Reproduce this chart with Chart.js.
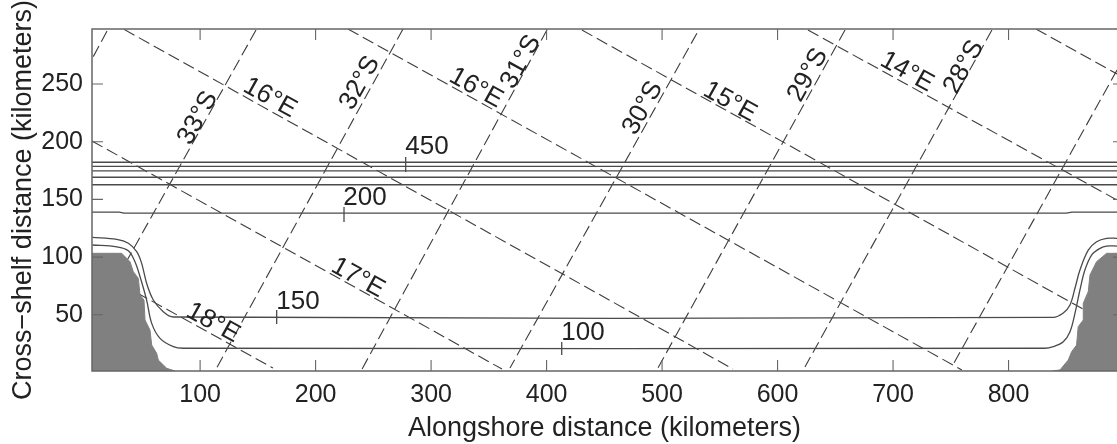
<!DOCTYPE html>
<html>
<head>
<meta charset="utf-8">
<title>Shelf grid</title>
<script src="https://cdn.jsdelivr.net/npm/chart.js@4"></script>
<style>
  html, body { margin: 0; padding: 0; background: #fff; }
  canvas { display: block; filter: blur(0.45px); }
</style>
</head>
<body>
<canvas id="shelfChart" width="1117" height="444"></canvas>
<script>
/* =========================
   DATA (kilometers)
========================= */

const xTicks = [100, 200, 300, 400, 500, 600, 700, 800];
const yTicks = [50, 100, 150, 200, 250];

const xMin = 6.4;
const xMax = 893.9;
const yMin = 1.3;
const yMax = 297.7;

// offshore isobaths, flat across the whole domain
const flatIsobaths = [182.2, 178.7, 174.8, 169.2, 162.7];

const isobath138X = [6.4, 30, 34, 850, 855, 893.9];
const isobath138Y = [139, 139, 138.1, 138.1, 139, 139];

const isobathUpperX = [6.7, 27.8, 37.9, 45.1, 49.4, 53.7, 59.5, 68.1, 76.8, 838.7, 847.4, 853.2, 857.5, 861.8, 869, 876.2, 884.9, 893.9];
const isobathUpperY = [117.1, 115.4, 112, 104.7, 94.6, 77.3, 62.8, 52.7, 48.1, 47.8, 51.6, 58.5, 73, 88.8, 106, 113.3, 116.3, 116.3];

const isobathLowerX = [6.7, 27.8, 37.9, 43.6, 48, 53.7, 58.1, 65.3, 76.8, 85.5, 831.5, 838.7, 847.4, 853.2, 857.5, 861.8, 866.1, 871.9, 879.2, 884.9, 893.9];
const isobathLowerY = [110.5, 108.9, 105.5, 96, 83, 62.8, 42.6, 29.6, 22.4, 21, 21, 22.4, 26.7, 35.4, 51.3, 71.5, 88.8, 101.8, 107.6, 109.6, 109.6];

const landLeftX = [6.4, 32.1, 39.3, 42.2, 46.5, 48, 51.4, 52.3, 56.6, 58.1, 62.4, 63.8, 71.1, 78.3];
const landLeftY = [103.3, 103.3, 96, 87.3, 81.6, 67.2, 62.8, 45.5, 36.8, 23.8, 16.6, 10.8, 3.6, 1.3];

const landRightX = [838, 844.5, 851.7, 854.6, 858.9, 860.3, 864.7, 864.7, 869, 870.5, 876.2, 884.9, 893.9];
const landRightY = [1.3, 2.2, 10.8, 18, 23.8, 39.7, 45.5, 60, 70, 84.5, 96, 103.3, 103.3];

// meridians: [x0, y0, x1, y1]
const meridian18 = [6.4, 90.6, 163.1, 3.9];
const meridian17 = [6.4, 200.6, 361.4, 3];
const meridian16a = [34.1, 297.4, 561.4, 3];
const meridian16b = [228, 297.7, 759.6, 2.2];
const meridian15 = [430.6, 296.8, 893.9, 38.6];
const meridian14 = [626.3, 296.8, 893.9, 149.5];
const meridian13 = [823.7, 297.7, 893.9, 258.7];

// parallels: [x0, y0, x1, y1]
const parallel34 = [19.4, 295.9, 6.4, 271.7];
const parallel33 = [148.4, 296.8, 6.4, 42.9];
const parallel32 = [275.7, 297.7, 112.9, 1.3];
const parallel31 = [400.3, 296.8, 239.3, 1.3];
const parallel30 = [530.2, 294.1, 368.3, 3.9];
const parallel29 = [658.4, 296.8, 496.4, 3.9];
const parallel28 = [785.6, 296.8, 623.7, 4.8];
const parallel27 = [893.9, 262.1, 751.8, 6.5];
const parallel26 = [893.9, 34.2, 879.1, 4.8];

const parallelNames = ["33°S", "32°S", "31°S", "30°S", "29°S", "28°S"];
const parallelNameX = [98.2, 238.4, 377.8, 483.5, 626.3, 761.4];
const parallelNameY = [220.5, 250.9, 269.1, 229.2, 257.8, 264.7];

const meridianNames = ["16°E", "16°E", "15°E", "14°E", "17°E", "18°E"];
const meridianNameX = [160.5, 338.9, 558.8, 712, 236.7, 111.2];
const meridianNameY = [237.9, 246.5, 234.4, 260.4, 81.9, 42.9];

const depthNames = ["450", "200", "150", "100"];
const depthNameX = [296.5, 242.8, 184.8, 431.5];
const depthNameY = [195.4, 151.2, 61.1, 34.2];

const depthTickX = [278, 224.6, 166.3, 413.1];
const depthTickTop = [186.7, 143.4, 54.2, 26.4];
const depthTickBottom = [173.7, 130.4, 42, 15.2];

/* =========================
   DATASETS
========================= */

const LINE_COLOR = "#4a4a4a";
const TEXT_COLOR = "#222222";
const FONT_FAMILY = "'Liberation Sans', Arial, sans-serif";

function zipPoints(xs, ys) {
  return xs.map((x, i) => ({ x: x, y: ys[i] }));
}

function landSet(xs, ys) {
  return {
    data: zipPoints(xs, ys),
    borderColor: "#808080",
    backgroundColor: "#808080",
    borderWidth: 1,
    fill: "start",
    tension: 0
  };
}

function solidSet(points, smooth) {
  return {
    data: points,
    borderColor: LINE_COLOR,
    borderWidth: 1.3,
    fill: false,
    tension: smooth ? 0.35 : 0
  };
}

function dashedSet(seg) {
  return {
    data: [{ x: seg[0], y: seg[1] }, { x: seg[2], y: seg[3] }],
    borderColor: "#3c3c3c",
    borderWidth: 1.1,
    borderDash: [12, 5],
    fill: false,
    tension: 0
  };
}

const datasets = [
  landSet(landLeftX, landLeftY),
  landSet(landRightX, landRightY)
];

flatIsobaths.forEach(y => {
  datasets.push(solidSet([{ x: xMin, y: y }, { x: xMax, y: y }], false));
});

datasets.push(solidSet(zipPoints(isobath138X, isobath138Y), false));
datasets.push(solidSet(zipPoints(isobathUpperX, isobathUpperY), true));
datasets.push(solidSet(zipPoints(isobathLowerX, isobathLowerY), true));

depthTickX.forEach((x, i) => {
  datasets.push(solidSet([{ x: x, y: depthTickTop[i] }, { x: x, y: depthTickBottom[i] }], false));
});

[
  meridian18, meridian17, meridian16a, meridian16b, meridian15, meridian14, meridian13,
  parallel34, parallel33, parallel32, parallel31, parallel30, parallel29, parallel28, parallel27, parallel26
].forEach(seg => {
  datasets.push(dashedSet(seg));
});

/* =========================
   FRAME, TICKS, LABELS
========================= */

const framePlugin = {
  id: "framePlugin",
  afterDraw(chart) {
    const c = chart.ctx;
    const a = chart.chartArea;
    const sx = chart.scales.x;
    const sy = chart.scales.y;

    c.save();
    c.strokeStyle = "#666666";
    c.lineWidth = 1.5;
    c.beginPath();
    c.moveTo(a.right + 2, a.top);
    c.lineTo(a.left, a.top);
    c.lineTo(a.left, a.bottom);
    c.lineTo(a.right + 2, a.bottom);
    c.stroke();

    c.lineWidth = 1.1;
    c.beginPath();
    xTicks.forEach(v => {
      const px = sx.getPixelForValue(v);
      c.moveTo(px, a.bottom);
      c.lineTo(px, a.bottom - 11);
      c.moveTo(px, a.top);
      c.lineTo(px, a.top + 11);
    });
    yTicks.forEach(v => {
      const py = sy.getPixelForValue(v);
      c.moveTo(a.left, py);
      c.lineTo(a.left + 11, py);
      c.moveTo(a.right, py);
      c.lineTo(a.right - 4, py);
    });
    c.stroke();

    c.fillStyle = TEXT_COLOR;
    c.font = "26px " + FONT_FAMILY;
    c.textAlign = "center";
    c.textBaseline = "middle";

    function rotatedText(text, x, y, degrees) {
      c.save();
      c.translate(sx.getPixelForValue(x), sy.getPixelForValue(y));
      c.rotate(degrees * Math.PI / 180);
      c.fillText(text, 0, 0);
      c.restore();
    }

    parallelNames.forEach((t, i) => rotatedText(t, parallelNameX[i], parallelNameY[i], -61));
    meridianNames.forEach((t, i) => rotatedText(t, meridianNameX[i], meridianNameY[i], 29));
    depthNames.forEach((t, i) => rotatedText(t, depthNameX[i], depthNameY[i], 0));

    c.restore();
  }
};

/* =========================
   CHART
========================= */

const shelfChart = new Chart(document.getElementById("shelfChart").getContext("2d"), {
  type: "line",
  data: { datasets: datasets },
  plugins: [framePlugin],
  options: {
    responsive: false,
    animation: false,
    devicePixelRatio: 1,
    layout: { padding: { top: 29, right: 0, left: 0, bottom: 0 } },
    elements: { point: { radius: 0 } },
    plugins: {
      legend: { display: false },
      tooltip: { enabled: false }
    },
    scales: {
      x: {
        type: "linear",
        min: xMin,
        max: xMax,
        afterBuildTicks: s => { s.ticks = xTicks.map(v => ({ value: v })); },
        afterFit: s => { s.height = 73; },
        grid: { display: false, drawTicks: false },
        border: { display: false },
        ticks: {
          color: TEXT_COLOR,
          font: { family: FONT_FAMILY, size: 25 },
          maxRotation: 0,
          autoSkip: false,
          padding: 9
        },
        title: {
          display: true,
          text: "Alongshore distance (kilometers)",
          color: TEXT_COLOR,
          font: { family: FONT_FAMILY, size: 27 },
          padding: { top: 2, bottom: -1 }
        }
      },
      y: {
        type: "linear",
        min: yMin,
        max: yMax,
        afterBuildTicks: s => { s.ticks = yTicks.map(v => ({ value: v })); },
        afterFit: s => { s.width = 92; },
        grid: { display: false, drawTicks: false },
        border: { display: false },
        ticks: {
          color: TEXT_COLOR,
          font: { family: FONT_FAMILY, size: 25 },
          autoSkip: false,
          padding: 9
        },
        title: {
          display: true,
          text: "Cross−shelf distance (kilometers)",
          color: TEXT_COLOR,
          font: { family: FONT_FAMILY, size: 27 },
          padding: { top: 7, bottom: 0 }
        }
      }
    }
  }
});
</script>
</body>
</html>
